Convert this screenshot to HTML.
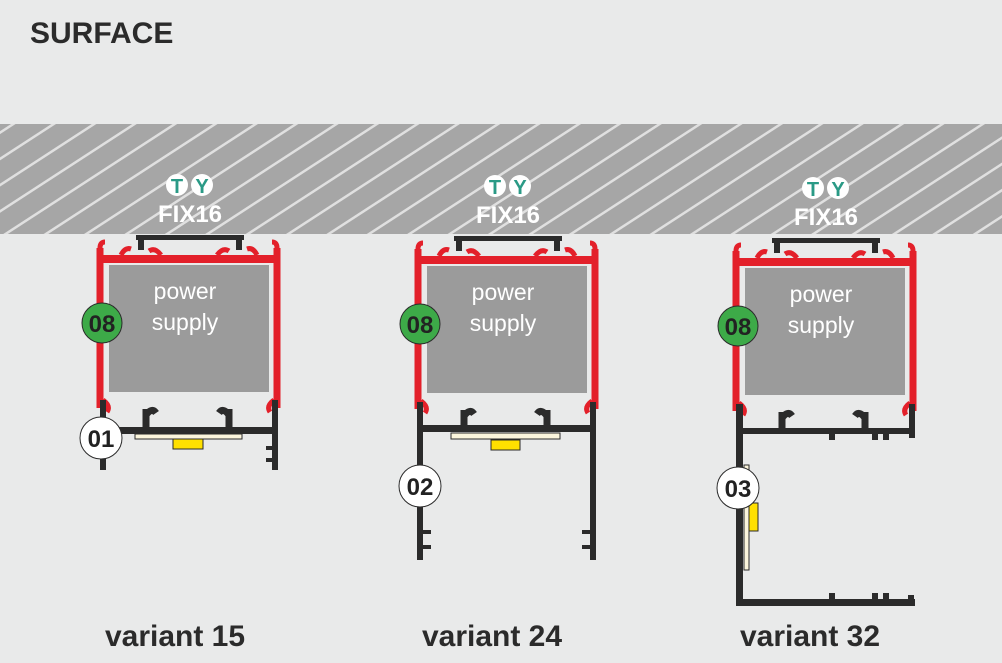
<!DOCTYPE html>
<html><head><style>
html,body{margin:0;padding:0;background:#e9eaea;}
svg{display:block;font-family:"Liberation Sans",sans-serif;}
</style></head><body>
<svg width="1002" height="663" viewBox="0 0 1002 663">
<defs>
<pattern id="h" width="22" height="22" patternUnits="userSpaceOnUse" patternTransform="rotate(-33)">
<rect width="22" height="22" fill="#a6a6a6"/>
<rect width="22" height="2.5" fill="#e0e0e0"/>
</pattern>
<g id="top">
 <path d="M-1 13 v160 M176 13 v160" stroke="#e3202a" stroke-width="7" fill="none"/>
 <path d="M-1 13 q0 -6 5 -6 M176 13 q0 -6 -5 -6" stroke="#e3202a" stroke-width="5" fill="none"/>
 <rect x="-1" y="20" width="177" height="8" fill="#e3202a"/>
 <path d="M20 20 q4 -8 10 -6 M156 20 q-4 -8 -10 -6 M60 20 q-6 -8 -12 -4 M116 20 q6 -8 12 -4" stroke="#e3202a" stroke-width="5" fill="none"/>
 <rect x="35" y="0" width="108" height="5" fill="#2b2b2b"/>
 <rect x="37" y="0" width="6" height="15" fill="#2b2b2b"/>
 <rect x="135" y="0" width="6" height="15" fill="#2b2b2b"/>
 <path d="M2 165 q8 6 4 12 M173 165 q-8 6 -4 12" stroke="#e3202a" stroke-width="5" fill="none"/>
 <rect x="8" y="30" width="160" height="127" fill="#9b9b9b"/>
 <text x="84" y="64" fill="#fff" font-size="23" text-anchor="middle">power</text>
 <text x="84" y="95" fill="#fff" font-size="23" text-anchor="middle">supply</text>
 <path d="M45 192 v-18 m0 6 q6 -8 10 -2 M128 192 v-18 m0 6 q-6 -8 -10 -2" stroke="#2b2b2b" stroke-width="7" fill="none"/>
 <circle cx="1" cy="88" r="20" fill="#3daa48" stroke="#2b2b2b" stroke-width="1"/>
 <text x="1" y="97" font-size="24" font-weight="bold" fill="#222" text-anchor="middle">08</text>
 <circle cx="76" cy="-50" r="11" fill="#fff"/><circle cx="101" cy="-50" r="11" fill="#fff"/>
 <text x="76" y="-42" font-size="20" font-weight="bold" fill="#2a9a86" text-anchor="middle">T</text>
 <text x="101" y="-42" font-size="20" font-weight="bold" fill="#2a9a86" text-anchor="middle">Y</text>
 <text x="89" y="-13" font-size="24" font-weight="bold" fill="#fff" text-anchor="middle">FIX16</text>
</g>
</defs>
<rect width="1002" height="663" fill="#e9eaea"/>
<rect x="0" y="124" width="1002" height="110" fill="url(#h)"/>
<text x="30" y="43" font-size="30" font-weight="bold" fill="#2b2b2b">SURFACE</text>

<use href="#top" x="101" y="235"/>
<g fill="#2b2b2b">
<rect x="100" y="400" width="6" height="70"/><rect x="272" y="400" width="6" height="70"/>
<rect x="100" y="427" width="178" height="7"/>
<rect x="266" y="446" width="8" height="4"/><rect x="266" y="458" width="8" height="4"/>
</g>
<rect x="135" y="434" width="107" height="5" fill="#fbf5dc" stroke="#2b2b2b"/>
<rect x="173" y="439" width="30" height="10" fill="#ffe000" stroke="#2b2b2b"/>
<circle cx="101" cy="438" r="21" fill="#fff" stroke="#2b2b2b"/>
<text x="101" y="447" font-size="24" font-weight="bold" fill="#222" text-anchor="middle">01</text>
<text x="175" y="646" font-size="30" font-weight="bold" fill="#2b2b2b" text-anchor="middle">variant 15</text>

<use href="#top" x="419" y="236"/>
<g fill="#2b2b2b">
<rect x="417" y="402" width="6" height="158"/><rect x="590" y="402" width="6" height="158"/>
<rect x="417" y="425" width="179" height="7"/>
<rect x="423" y="530" width="8" height="4"/><rect x="423" y="545" width="8" height="4"/>
<rect x="582" y="530" width="8" height="4"/><rect x="582" y="545" width="8" height="4"/>
</g>
<rect x="451" y="433" width="109" height="6" fill="#fbf5dc" stroke="#2b2b2b"/>
<rect x="491" y="440" width="29" height="10" fill="#ffe000" stroke="#2b2b2b"/>
<circle cx="420" cy="486" r="21" fill="#fff" stroke="#2b2b2b"/>
<text x="420" y="495" font-size="24" font-weight="bold" fill="#222" text-anchor="middle">02</text>
<text x="492" y="646" font-size="30" font-weight="bold" fill="#2b2b2b" text-anchor="middle">variant 24</text>

<use href="#top" x="737" y="238"/>
<g fill="#2b2b2b">
<rect x="736" y="404" width="7" height="202"/><rect x="909" y="404" width="6" height="34"/>
<rect x="736" y="428" width="179" height="6"/>
<rect x="736" y="599" width="179" height="7"/>
<rect x="829" y="434" width="6" height="6"/><rect x="872" y="434" width="6" height="6"/><rect x="883" y="434" width="6" height="6"/>
<rect x="829" y="593" width="6" height="6"/><rect x="872" y="593" width="6" height="6"/><rect x="883" y="593" width="6" height="6"/><rect x="908" y="595" width="6" height="6"/>
</g>
<rect x="744" y="465" width="5" height="105" fill="#fbf5dc" stroke="#2b2b2b"/>
<rect x="749" y="503" width="9" height="28" fill="#ffe000" stroke="#2b2b2b"/>
<circle cx="738" cy="488" r="21" fill="#fff" stroke="#2b2b2b"/>
<text x="738" y="497" font-size="24" font-weight="bold" fill="#222" text-anchor="middle">03</text>
<text x="810" y="646" font-size="30" font-weight="bold" fill="#2b2b2b" text-anchor="middle">variant 32</text>
</svg>
</body></html>
